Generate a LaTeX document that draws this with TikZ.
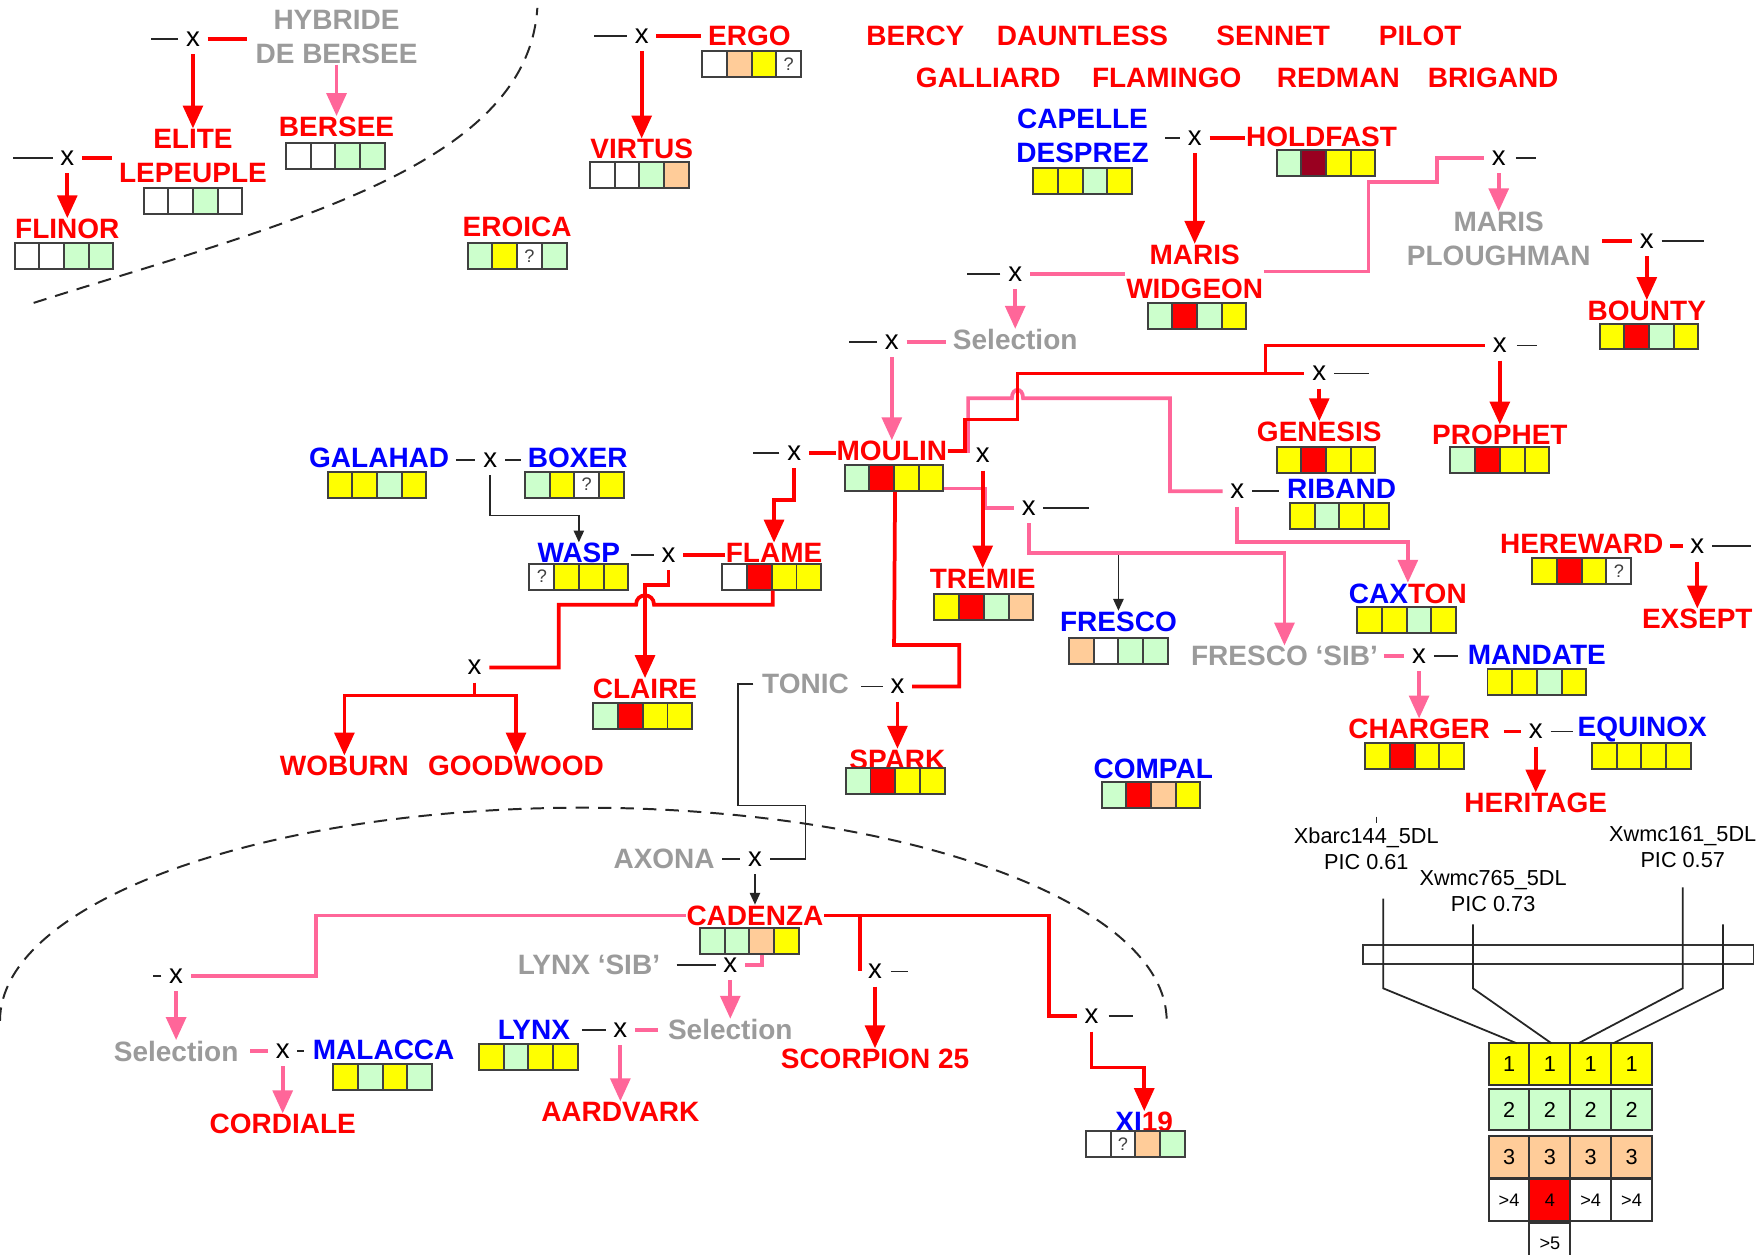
\documentclass[tikz,border=0pt]{standalone}
\usepackage{fontspec}
\setmainfont{Liberation Sans}
\usetikzlibrary{arrows.meta}
\definecolor{vred}{RGB}{255,0,0}
\definecolor{vblue}{RGB}{0,0,255}
\definecolor{vgray}{RGB}{155,155,155}
\definecolor{vpink}{RGB}{255,102,153}
\definecolor{yel}{RGB}{255,255,0}
\definecolor{lgreen}{RGB}{204,255,204}
\definecolor{peach}{RGB}{255,204,153}
\definecolor{dred}{RGB}{153,0,32}
\newcommand{\lab}{\fontsize{7.1}{8.6}\selectfont\bfseries}
\newcommand{\xfs}{\fontsize{7}{8}\selectfont}
\newcommand{\mfs}{\fontsize{5.5}{6.6}\selectfont}
\newcommand{\qfs}{\fontsize{4.6}{5.5}\selectfont}
\newcommand{\geno}[6]{%
  \node[cell,#3] (#1-1) at ([xshift=-0.33cm]#2) {};
  \node[cell,#4] (#1-2) at ([xshift=-0.11cm]#2) {};
  \node[cell,#5] (#1-3) at ([xshift=0.11cm]#2) {};
  \node[cell,#6] (#1-4) at ([xshift=0.33cm]#2) {};}

\begin{document}
\begin{tikzpicture}[x=0.01cm, y=-0.01cm,
  rv/.style={font=\lab, text=vred, inner sep=0pt},
  bv/.style={font=\lab, text=vblue, inner sep=0pt},
  gv/.style={font=\lab, text=vgray, inner sep=0pt},
  cross/.style={font=\xfs, inner sep=1.8pt},
  cell/.style={draw=black!75, line width=0.5pt, minimum width=0.22cm, minimum height=0.23cm, inner sep=0pt},
  cY/.style={fill=yel}, cG/.style={fill=lgreen}, cO/.style={fill=peach},
  cR/.style={fill=vred}, cD/.style={fill=dred}, cW/.style={fill=white},
  cQ/.style={fill=white, path picture={\node[font=\qfs, text=black!75] at (path picture bounding box.center) {?};}},
  kcell/.style={draw=black!80, line width=0.5pt, minimum width=0.364cm, minimum height=0.37cm, inner sep=0pt, font=\mfs},
  rl/.style={vred, line width=0.95pt},
  pl/.style={vpink, line width=0.95pt},
  bl/.style={black!85, line width=0.45pt},
  ra/.style={rl, -{Triangle[length=5.8pt, width=5pt]}},
  pa/.style={pl, -{Triangle[length=5.8pt, width=5pt]}},
  ba/.style={bl, -{Triangle[length=3pt, width=2.6pt]}},
  arcline/.style={black!85, line width=0.5pt, dash pattern=on 3.4pt off 2.3pt}]
\useasboundingbox (0,0) rectangle (1568,1118);
\fill[white] (0,0) rectangle (1568,1118);

\node[gv, align=center] (hybride) at (300,33) {HYBRIDE\\DE BERSEE};
\node[cross] (xelite) at (172,35) {x};
\node[rv, align=center] (elite) at (172,139) {ELITE\\LEPEUPLE};
\geno{eliteG}{172,179}{cW}{cW}{cG}{cW}
\node[rv] (bersee) at (300,113) {BERSEE};
\geno{berseeG}{299,139}{cW}{cW}{cG}{cG}
\node[cross] (xflinor) at (60,141) {x};
\node[rv] (flinor) at (60,204) {FLINOR};
\geno{flinorG}{57,228}{cW}{cW}{cG}{cG}
\node[rv] (eroica) at (461,202) {EROICA};
\geno{eroicaG}{461,228}{cG}{cY}{cQ}{cG}
\draw[bl] (xelite.west) -- ++(-24,0);
\draw[rl, shorten >=2pt] (xelite.east) -- (xelite.east -| hybride.west);
\draw[ra] (xelite.south) -- (elite.north);
\draw[pa] (hybride.south) -- (bersee.north);
\draw[bl] (xflinor.west) -- ++(-35,0);
\draw[rl, shorten >=1.7pt] (xflinor.east) -- (xflinor.east -| elite.west);
\draw[ra] (xflinor.south) -- (flinor.north);
\draw[arcline] (30,270) .. controls (250,200) and (470,150) .. (479,7);

\node[cross] (xvirtus) at (572,32) {x};
\node[rv] (ergo) at (668,32) {ERGO};
\geno{ergoG}{670,57}{cW}{cO}{cY}{cQ}
\node[rv] (virtus) at (572,133) {VIRTUS};
\geno{virtusG}{570,156}{cW}{cW}{cG}{cO}
\draw[bl] (xvirtus.west) -- ++(-29,0);
\draw[rl, shorten >=1.5pt] (xvirtus.east) -- (ergo.west);
\draw[ra] (xvirtus.south) -- (virtus.north);

\node[rv] (bercy) at (816,32) {BERCY};
\node[rv] (dauntless) at (965,32) {DAUNTLESS};
\node[rv] (sennet) at (1135,32) {SENNET};
\node[rv] (pilot) at (1266,32) {PILOT};
\node[rv] (galliard) at (881,69) {GALLIARD};
\node[rv] (flamingo) at (1040,69) {FLAMINGO};
\node[rv] (redman) at (1193,69) {REDMAN};
\node[rv] (brigand) at (1331,69) {BRIGAND};

\node[bv, align=center] (capelle) at (965,121) {CAPELLE\\DESPREZ};
\geno{capelleG}{965,161}{cY}{cY}{cG}{cY}
\node[cross] (xwidgeon) at (1065,123) {x};
\node[rv] (holdfast) at (1178,122) {HOLDFAST};
\geno{holdfastG}{1182,145}{cG}{cD}{cY}{cY}
\node[rv, align=center] (widgeon) at (1065,242) {MARIS\\WIDGEON};
\geno{widgeonG}{1067,282}{cG}{cR}{cG}{cY}
\draw[bl, shorten <=4pt] (xwidgeon.west -| capelle.east) -- (xwidgeon.west);
\draw[rl] (xwidgeon.east) -- (xwidgeon.east -| holdfast.west);
\draw[ra] (xwidgeon.south) -- (widgeon.north);

\node[cross] (xplough) at (1336,141) {x};
\node[gv, align=center] (plough) at (1336,213) {MARIS\\PLOUGHMAN};
\node[cross] (xbounty) at (1468,215) {x};
\node[rv] (bounty) at (1468,277) {BOUNTY};
\geno{bountyG}{1470,300}{cY}{cR}{cG}{cY}
\draw[pl] (widgeon.east) -- (1220,242) -- (1220,162) -- (1281,162) |- (xplough.west);
\draw[bl] (xplough.east) ++(2,0) -- ++(18,0);
\draw[pa] (xplough.south) -- (plough.north);
\draw[rl, shorten <=2.8pt] (xbounty.west -| plough.east) -- (xbounty.west);
\draw[bl] (xbounty.east) -- ++(38,0);
\draw[ra] (xbounty.south) -- (bounty.north);

\node[cross] (xmoulin) at (905,244) {x};
\node[gv] (sel1) at (905,303) {Selection};
\node[cross] (xsel) at (795,305) {x};
\node[rv] (moulin) at (795,402) {MOULIN};
\geno{moulinG}{797,426}{cG}{cR}{cY}{cY}
\draw[bl] (xmoulin.west) -- ++(-30,0);
\draw[pl] (xmoulin.east) -- (xmoulin.east -| widgeon.west);
\draw[pa] (xmoulin.south) -- (sel1.north);
\draw[bl] (xsel.west) -- ++(-25,0);
\draw[pl, shorten >=1.5pt] (xsel.east) -- (xsel.east -| sel1.west);
\draw[pa] (xsel.south) -- (moulin.north);

\node[cross] (xflame) at (708,404) {x};
\node[rv] (flame) at (690,493) {FLAME};
\geno{flameG}{688,514}{cW}{cR}{cY}{cY}
\draw[bl] (xflame.west) -- ++(-24,0);
\draw[rl] (xflame.east) -- (xflame.east -| moulin.west);
\draw[ra] (xflame.south) -- ++(0,28) -| (flame.north);

\node[bv] (galahad) at (338,408) {GALAHAD};
\geno{galahadG}{336,432}{cY}{cY}{cG}{cY}
\node[cross] (xwasp) at (437,410) {x};
\node[bv] (boxer) at (515,408) {BOXER};
\geno{boxerG}{512,432}{cG}{cY}{cQ}{cY}
\node[bv] (wasp) at (516,493) {WASP};
\geno{waspG}{516,514}{cQ}{cY}{cY}{cY}
\draw[bl, shorten <=1.5pt] (xwasp.west -| galahad.east) -- (xwasp.west);
\draw[bl, shorten >=1.5pt] (xwasp.east) -- (xwasp.east -| boxer.west);
\draw[ba] (xwasp.south) -- ++(0,36) -| (wasp.north);

\node[cross] (xclaire) at (596,495) {x};
\node[rv] (claire) at (575,614) {CLAIRE};
\geno{claireG}{573,638}{cG}{cR}{cY}{cY}
\draw[bl, shorten <=2.5pt] (xclaire.west -| wasp.east) -- (xclaire.west);
\draw[rl] (xclaire.east) -- (xclaire.east -| flame.west);
\draw[ra] (xclaire.south) -- ++(0,13) -| (claire.north);

\node[cross] (xwob) at (423,595) {x};
\node[rv] (woburn) at (307,683) {WOBURN};
\node[rv] (goodwood) at (460,683) {GOODWOOD};
\coordinate (wsplit) at (423,620);
\draw[rl] (flameG-2.south east) |- (583,539) .. controls (583,528) and (567,528) .. (567,539) -| (498,595) -- (xwob.east);
\draw[rl] (xwob.south) -- (wsplit);
\draw[ra] (wsplit) -| (woburn.north);
\draw[ra] (wsplit) -| (goodwood.north);

\node[cross] (xspark) at (800,612) {x};
\node[gv] (tonic) at (718,610) {TONIC};
\node[rv] (spark) at (800,677) {SPARK};
\geno{sparkG}{798,696}{cG}{cR}{cY}{cY}
\draw[rl] (moulinG-2.south east) -- (797,575) -| (855,612) -- (xspark.east);
\draw[bl, shorten <=3pt] (tonic.east |- xspark.west) -- (xspark.west);
\draw[ra] (xspark.south) -- (spark.north);

\node[gv] (axona) at (592,766) {AXONA};
\node[cross] (xaxona) at (673,766) {x};
\node[rv] (cadenza) at (673,816) {CADENZA};
\geno{cadenzaG}{668,839}{cG}{cG}{cO}{cY}
\draw[bl, shorten <=1.7pt] (axona.east) -- (xaxona.west);
\draw[bl, shorten <=2pt] (tonic.west) -- (658,610) |- (718,718) |- (xaxona.east);
\draw[ba] (xaxona.south) -- (cadenza.north);

\node[cross] (xsel2) at (157,870) {x};
\node[gv] (sel2) at (157,937) {Selection};
\node[cross] (xcord) at (252,937) {x};
\node[bv] (malacca) at (342,936) {MALACCA};
\geno{malaccaG}{341,960}{cY}{cG}{cY}{cG}
\node[rv] (cordiale) at (252,1002) {CORDIALE};
\draw[pl] (cadenza.west) -- (282,816) |- (xsel2.east);
\draw[bl] (xsel2.west) -- ++(-7,0);
\draw[pa] (xsel2.south) -- (sel2.north);
\draw[pl, shorten <=2.8pt] (sel2.east) -- (xcord.west);
\draw[bl, shorten >=2pt] (xcord.east) -- (xcord.east -| malacca.west);
\draw[pa] (xcord.south) -- (cordiale.north);

\node[gv] (lynxsib) at (525,860) {LYNX ‘SIB’};
\node[cross] (xsel3) at (651,860) {x};
\node[gv] (sel3) at (651,918) {Selection};
\node[bv] (lynx) at (476,918) {LYNX};
\geno{lynxG}{471,942}{cY}{cG}{cY}{cY}
\node[cross] (xaard) at (553,918) {x};
\node[rv] (aardvark) at (553,991) {AARDVARK};
\draw[bl, shorten <=4pt] (lynxsib.east) -- (xsel3.west);
\draw[pl] (cadenzaG-3.south) |- (xsel3.east);
\draw[pa] (xsel3.south) -- (sel3.north);
\draw[bl, shorten <=2.8pt] (lynx.east) -- (xaard.west);
\draw[pl, shorten >=2.3pt] (xaard.east) -- (sel3.west);
\draw[pa] (xaard.south) -- (aardvark.north);

\node[cross] (xscorp) at (780,866) {x};
\node[rv] (scorpion) at (780,944) {SCORPION 25};
\node[cross] (xxi) at (973,906) {x};
\node[rv] (xi19) at (1020,1000) {\textcolor{vblue}{XI}19};
\geno{xiG}{1012,1020}{cW}{cQ}{cO}{cG}
\draw[rl] (cadenza.east) -- (935,816) |- (xxi.west);
\draw[rl] (cadenza.east -| xscorp.west) -- (xscorp.west);
\draw[bl] (xscorp.east) ++(1,0) -- ++(15,0);
\draw[ra] (xscorp.south) -- (scorpion.north);
\draw[bl] (xxi.east) ++(2,0) -- ++(22,0);
\draw[ra] (xxi.south) -- ++(0,32) -| (xi19.north);
\draw[arcline] (0,910) .. controls (0,805) and (233,720) .. (520,720) .. controls (807,720) and (1040,805) .. (1040,910);

\node[cross] (xgenesis) at (1176,333) {x};
\node[cross] (xprophet) at (1337,308) {x};
\node[rv] (genesis) at (1176,385) {GENESIS};
\geno{genesisG}{1182,410}{cY}{cR}{cY}{cY}
\node[rv] (prophet) at (1337,388) {PROPHET};
\geno{prophetG}{1337,410}{cG}{cR}{cY}{cY}
\node[cross] (xriband) at (1103,438) {x};
\node[bv] (riband) at (1196,436) {RIBAND};
\geno{ribandG}{1194,460}{cY}{cG}{cY}{cY}
\node[rv] (caxton) at (1255,529) {\textcolor{vblue}{CAX}TON};
\geno{caxtonG}{1254,553}{cY}{cY}{cG}{cY}
\node[cross] (xfresco) at (917,453) {x};
\node[cross] (xtremie) at (876,406) {x};
\node[rv] (tremie) at (876,516) {TREMIE};
\geno{tremieG}{877,541}{cY}{cR}{cG}{cO}
\node[bv] (fresco) at (997,554) {FRESCO};
\geno{frescoG}{997,580}{cO}{cW}{cG}{cG}
\node[gv] (fsib) at (1145,585) {FRESCO ‘SIB’};
\coordinate (fsplit) at (997,493);
\draw[pl] (moulin.east) -| (863,355) -- (902,355) .. controls (902,345) and (912,345) .. (912,355) -- (1043,355) |- (xriband.west);
\draw[pl] ([yshift=0.03cm]moulinG-4.south east) -| (878,453) -- (xfresco.west);
\draw[ba] (fsplit) -- (fresco.north);
\draw[pa] (xfresco.south) |- (fsplit) -| (fsib.north);
\draw[bl] (xfresco.east) -- ++(41,0);
\draw[rl] (moulin.east) -| (860,374) -- (907,374) |- (xgenesis.west);
\draw[rl] (1128,333) |- (xprophet.west);
\draw[bl] (xgenesis.east) -- ++(31,0);
\draw[bl] (xprophet.east) ++(2,0) -- ++(18,0);
\draw[ra] (xgenesis.south) -- (genesis.north);
\draw[ra] (xprophet.south) -- (prophet.north);
\draw[ra] (xtremie.south) -- (tremie.north);
\draw[bl, shorten >=2pt] (xriband.east) -- (xriband.east -| riband.west);
\draw[pa] (xriband.south) -- (1103,483) -| (caxton.north);

\node[rv] (hereward) at (1410,485) {HEREWARD};
\geno{herewardG}{1410,509}{cY}{cR}{cY}{cQ}
\node[cross] (xexsept) at (1513,487) {x};
\node[rv] (exsept) at (1513,552) {EXSEPT};
\draw[rl, shorten <=1.5pt] (xexsept.west -| hereward.east) -- (xexsept.west);
\draw[bl] (xexsept.east) -- ++(35,0);
\draw[ra] (xexsept.south) -- (exsept.north);

\node[cross] (xmandate) at (1265,585) {x};
\node[bv] (mandate) at (1370,584) {MANDATE};
\geno{mandateG}{1370,608}{cY}{cY}{cG}{cY}
\node[rv] (charger) at (1265,650) {CHARGER};
\geno{chargerG}{1261,674}{cY}{cR}{cY}{cY}
\node[cross] (xherit) at (1369,652) {x};
\node[bv] (equinox) at (1464,650) {EQUINOX};
\geno{equinoxG}{1463,674}{cY}{cY}{cY}{cY}
\node[rv] (heritage) at (1369,716) {HERITAGE};
\draw[pl, shorten <=1.3pt] (fsib.east) -- (xmandate.west);
\draw[bl, shorten >=2.3pt] (xmandate.east) -- (xmandate.east -| mandate.west);
\draw[pa] (xmandate.south) -- (charger.north);
\draw[rl, shorten <=3.4pt] (xherit.west -| charger.east) -- (xherit.west);
\draw[bl, shorten >=1pt] (xherit.east) -- (xherit.east -| equinox.west);
\draw[ra] (xherit.south) -- (heritage.north);

\node[bv] (compal) at (1028,685) {COMPAL};
\geno{compalG}{1026,709}{cG}{cR}{cO}{cY}

\node[font=\mfs, align=center, inner sep=0pt] (mk1) at (1218,757) {Xbarc144\_5DL\\PIC 0.61};
\node[font=\mfs, align=center, inner sep=0pt] (mk2) at (1331,794) {Xwmc765\_5DL\\PIC 0.73};
\node[font=\mfs, align=center, inner sep=0pt] (mk3) at (1500,755) {Xwmc161\_5DL\\PIC 0.57};
\node[draw=black!80, line width=0.5pt, minimum width=3.48cm, minimum height=0.17cm, inner sep=0pt] (chrom) at (1389,850.5) {};
\foreach \i in {1,...,4} {
  \node[kcell, fill=yel] (ka\i) at ({1345.2+36.4*(\i-1)},948.5) {1};
  \node[kcell, fill=lgreen] (kb\i) at ({1345.2+36.4*(\i-1)},989) {2};
  \node[kcell, fill=peach] (kc\i) at ({1345.2+36.4*(\i-1)},1031.5) {3};
}
\node[kcell, fill=white, font=\qfs] (kd1) at (1345.2,1069.5) {>4};
\node[kcell, fill=vred, font=\qfs] (kd2) at (1381.6,1069.5) {4};
\node[kcell, fill=white, font=\qfs] (kd3) at (1418,1069.5) {>4};
\node[kcell, fill=white, font=\qfs] (kd4) at (1454.4,1069.5) {>4};
\node[kcell, fill=white, font=\qfs] (ke2) at (1381.6,1108.5) {>5};
\draw[bl] (1227,728) -- (1227,734);
\draw[bl] (1233,801) -- (1233,881) -- (1352,930);
\draw[bl] (1313,824) -- (1313,881) -- (1383,930);
\draw[bl] (1500,791) -- (1500,881) -- (1407,930);
\draw[bl] (1536,824) -- (1536,881) -- (1438,930);
\end{tikzpicture}
\end{document}
